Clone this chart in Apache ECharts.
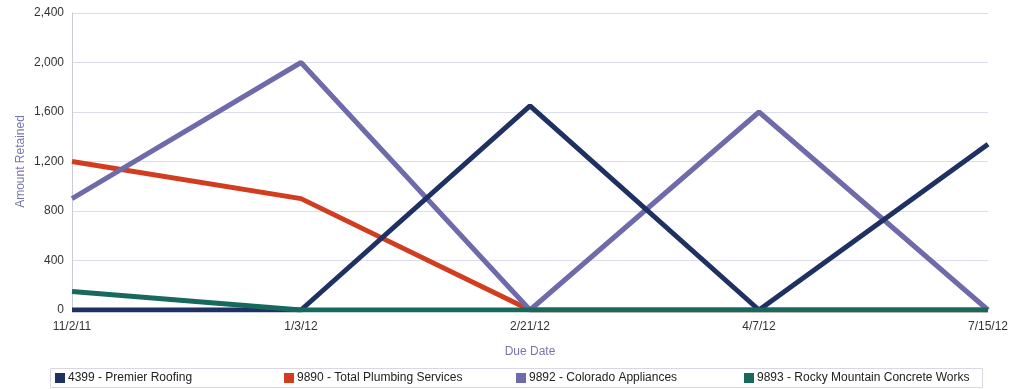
<!DOCTYPE html>
<html><head><meta charset="utf-8">
<script src="https://cdn.jsdelivr.net/npm/echarts@6/dist/echarts.min.js"></script>
<style>html,body{margin:0;padding:0;background:#fff}#c{width:1015px;height:389px}</style>
</head><body><div id="c"></div>
<script>
const categories = ['11/2/11','1/3/12','2/21/12','4/7/12','7/15/12'];
const seriesNames = ['4399 - Premier Roofing','9890 - Total Plumbing Services','9892 - Colorado Appliances','9893 - Rocky Mountain Concrete Works'];
const premierRoofing = [0, 0, 1650, 0, 1340];
const totalPlumbing = [1200, 900, 0, 0, 0];
const coloradoAppliances = [900, 2000, 0, 1600, 0];
const rockyMountain = [150, 0, 0, 0, 0];
const yTicks = [0, 400, 800, 1200, 1600, 2000, 2400];
const colors = ['#1E3162','#D23C1F','#6F6BAA','#17695E'];
const values = [premierRoofing, totalPlumbing, coloradoAppliances, rockyMountain];
const font = '"Liberation Sans Narrow", "Arial Narrow", "Liberation Sans", Arial, sans-serif';
const legendLefts = [55, 284, 516, 744];

const chart = echarts.init(document.getElementById('c'));
chart.setOption({
  animation: false,
  grid: {left: 72, right: 27, top: 13, bottom: 79},
  xAxis: {
    type: 'category', data: categories, boundaryGap: false,
    name: 'Due Date', nameLocation: 'middle', nameGap: 36,
    nameTextStyle: {color: '#7775AE', fontFamily: font, fontSize: 12},
    axisLine: {show: false}, axisTick: {show: false},
    axisLabel: {color: '#333', fontFamily: font, fontSize: 12, margin: 11,
      formatter: v => v, showMinLabel: true, showMaxLabel: true},
    splitLine: {show: false}
  },
  yAxis: {
    type: 'value', min: yTicks[0], max: yTicks[yTicks.length-1], interval: 400,
    name: 'Amount Retained', nameLocation: 'middle', nameGap: 45, nameMoveOverlap: false,
    nameTextStyle: {color: '#7775AE', fontFamily: font, fontSize: 12},
    axisLine: {show: true, lineStyle: {color: '#C9C8E0', width: 1}},
    axisTick: {show: false},
    axisLabel: {color: '#333', fontFamily: font, fontSize: 12, margin: 8,
      formatter: v => v.toLocaleString('en-US')},
    splitLine: {lineStyle: {color: '#DDDCEA', width: 1}}
  },
  legend: seriesNames.map((n, i) => ({
    data: [n], left: legendLefts[i], top: 372, itemWidth: 10, itemHeight: 10, itemGap: 4,
    icon: 'rect', textStyle: {color: '#222', fontFamily: font, fontSize: 12, padding: [0,0,0,-2]},
    padding: 0
  })),
  graphic: [{type: 'rect', shape: {x: 50.5, y: 368.5, width: 932, height: 19},
    style: {fill: 'none', stroke: '#D8D8E4', lineWidth: 1}, z: -1, silent: true}],
  series: seriesNames.map((n, i) => ({
    name: n, type: 'line', data: values[i], symbol: 'none', showSymbol: false,
    lineStyle: {color: colors[i], width: 5}, itemStyle: {color: colors[i]},
    z: i === 3 ? 5 : (i === 0 ? 4 : 3)
  }))
});
</script></body></html>
